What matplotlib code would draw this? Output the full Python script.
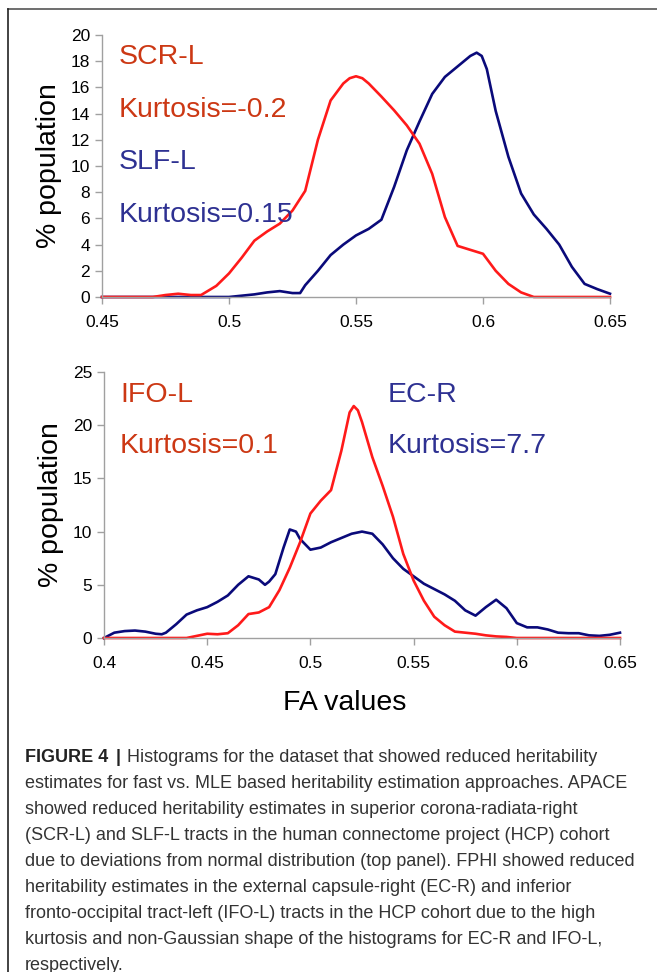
import matplotlib
matplotlib.use("Agg")
import matplotlib.pyplot as plt
from matplotlib.lines import Line2D

# top panel: SCR-L (red) and SLF-L (blue)
scr_x = [0.45, 0.47, 0.475, 0.48, 0.485, 0.489, 0.495, 0.5, 0.505, 0.51, 0.515, 0.52, 0.525, 0.53,
         0.535, 0.54, 0.545, 0.5475, 0.55, 0.5525, 0.555, 0.56, 0.565, 0.57, 0.575, 0.58, 0.585,
         0.59, 0.595, 0.6, 0.605, 0.61, 0.615, 0.62, 0.65]
scr_y = [0, 0, 0.15, 0.25, 0.15, 0.15, 0.85, 1.8, 3.0, 4.3, 5.0, 5.6, 6.6, 8.1,
         12.0, 15.0, 16.3, 16.7, 16.85, 16.7, 16.3, 15.3, 14.25, 13.1, 11.7, 9.4, 6.1,
         3.9, 3.6, 3.3, 2.0, 1.0, 0.35, 0, 0]
slf_x = [0.45, 0.5, 0.505, 0.51, 0.515, 0.52, 0.525, 0.528, 0.53, 0.535, 0.54, 0.545, 0.55,
         0.555, 0.56, 0.565, 0.57, 0.575, 0.58, 0.585, 0.59, 0.595, 0.5975, 0.5995, 0.6015,
         0.605, 0.61, 0.615, 0.62, 0.625, 0.63, 0.635, 0.64, 0.645, 0.65]
slf_y = [0, 0, 0.1, 0.2, 0.35, 0.45, 0.3, 0.3, 0.9, 2.0, 3.2, 4.0, 4.7,
         5.2, 5.9, 8.4, 11.2, 13.4, 15.5, 16.8, 17.6, 18.4, 18.65, 18.4, 17.4,
         14.2, 10.7, 7.9, 6.3, 5.2, 4.0, 2.3, 1.0, 0.6, 0.25]

# bottom panel: IFO-L (red) and EC-R (blue)
ifo_x = [0.4, 0.44, 0.445, 0.45, 0.455, 0.46, 0.465, 0.47, 0.475, 0.48, 0.485, 0.49, 0.495,
         0.5, 0.505, 0.51, 0.515, 0.519, 0.521, 0.523, 0.525, 0.53, 0.535, 0.54, 0.545, 0.55,
         0.555, 0.56, 0.565, 0.57, 0.575, 0.58, 0.585, 0.59, 0.595, 0.6, 0.65]
ifo_y = [0, 0, 0.2, 0.4, 0.35, 0.45, 1.2, 2.25, 2.4, 2.9, 4.5, 6.6, 9.0,
         11.7, 12.9, 13.9, 17.6, 21.2, 21.8, 21.4, 20.3, 17.0, 14.3, 11.4, 7.9, 5.4,
         3.5, 2.0, 1.2, 0.6, 0.5, 0.4, 0.25, 0.15, 0.1, 0, 0]
ecr_x = [0.4, 0.405, 0.41, 0.415, 0.42, 0.425, 0.428, 0.43, 0.435, 0.44, 0.445, 0.45, 0.455,
         0.46, 0.465, 0.47, 0.475, 0.478, 0.48, 0.483, 0.487, 0.49, 0.493, 0.495, 0.5,
         0.505, 0.51, 0.515, 0.52, 0.525, 0.53, 0.535, 0.54, 0.545, 0.55, 0.555, 0.56,
         0.565, 0.57, 0.575, 0.58, 0.585, 0.59, 0.595, 0.6, 0.605, 0.61, 0.615, 0.62,
         0.625, 0.63, 0.635, 0.64, 0.645, 0.65]
ecr_y = [0, 0.5, 0.65, 0.7, 0.6, 0.4, 0.35, 0.5, 1.3, 2.2, 2.6, 2.9, 3.4,
         4.0, 5.0, 5.8, 5.5, 5.0, 5.3, 6.0, 8.5, 10.2, 10.0, 9.3, 8.3,
         8.5, 9.0, 9.4, 9.8, 10.0, 9.8, 8.8, 7.5, 6.5, 5.8, 5.1, 4.6,
         4.1, 3.5, 2.6, 2.1, 2.9, 3.6, 2.8, 1.4, 1.0, 1.0, 0.8, 0.5,
         0.45, 0.45, 0.25, 0.2, 0.3, 0.5]

top_ticks_x = [0.45, 0.5, 0.55, 0.6, 0.65]
top_ticks_y = list(range(0, 21, 2))
bot_ticks_x = [0.4, 0.45, 0.5, 0.55, 0.6, 0.65]
bot_ticks_y = [0, 5, 10, 15, 20, 25]

caption_lines = [
    "Histograms for the dataset that showed reduced heritability",
    "estimates for fast vs. MLE based heritability estimation approaches. APACE",
    "showed reduced heritability estimates in superior corona-radiata-right",
    "(SCR-L) and SLF-L tracts in the human connectome project (HCP) cohort",
    "due to deviations from normal distribution (top panel). FPHI showed reduced",
    "heritability estimates in the external capsule-right (EC-R) and inferior",
    "fronto-occipital tract-left (IFO-L) tracts in the HCP cohort due to the high",
    "kurtosis and non-Gaussian shape of the histograms for EC-R and IFO-L,",
    "respectively.",
]

RED = "#ff1a1a"
NAVY = "#0a0a7a"
RED_TXT = "#cc3814"
NAVY_TXT = "#2e3192"
W, H = 657, 972

plt.rcParams["font.family"] = ["Liberation Sans", "DejaVu Sans"]
fig = plt.figure(figsize=(W / 100, H / 100), dpi=100)


def px_axes(left, top, right, bottom):
    return fig.add_axes([left / W, 1 - bottom / H, (right - left) / W, (bottom - top) / H])


def px_text(x, y, s, **kw):
    # pixel position measured from the top-left of the image
    return fig.text(x / W, 1 - y / H, s, **kw)


def style_axes(ax, xt, yt):
    ax.set_xticks(xt)
    ax.set_yticks(yt)
    ax.set_xlim(xt[0], xt[-1])
    ax.set_ylim(yt[0], yt[-1])
    ax.set_xticklabels([f"{v:g}" for v in xt])
    ax.set_yticklabels([str(v) for v in yt])
    for s in ["top", "right"]:
        ax.spines[s].set_visible(False)
    for s in ["left", "bottom"]:
        ax.spines[s].set_color("#a0a0a0")
        ax.spines[s].set_linewidth(1.0)
    ax.tick_params(colors="#a0a0a0", labelcolor="black", labelsize=12.5,
                   length=5, width=1.0, direction="out")
    ax.tick_params(axis="x", pad=8)
    ax.set_ylabel("% population", fontsize=20.5, labelpad=6)
    ax.patch.set_alpha(0)


# top panel
ax1 = px_axes(102, 35, 610, 297)
ax1.plot(scr_x, scr_y, color=RED, lw=1.9, solid_joinstyle="round", clip_on=False)
ax1.plot(slf_x, slf_y, color=NAVY, lw=1.9, solid_joinstyle="round", clip_on=False, zorder=1.9)
style_axes(ax1, top_ticks_x, top_ticks_y)
px_text(119, 57, "SCR-L", color=RED_TXT, fontsize=20.5, va="center")
px_text(119, 110, "Kurtosis=-0.2", color=RED_TXT, fontsize=20.5, va="center")
px_text(119, 162, "SLF-L", color=NAVY_TXT, fontsize=20.5, va="center")
px_text(119, 215, "Kurtosis=0.15", color=NAVY_TXT, fontsize=20.5, va="center")

# bottom panel
ax2 = px_axes(104, 372, 620, 638)
ax2.plot(ecr_x, ecr_y, color=NAVY, lw=1.9, solid_joinstyle="round", clip_on=False)
ax2.plot(ifo_x, ifo_y, color=RED, lw=1.9, solid_joinstyle="round", clip_on=False)
style_axes(ax2, bot_ticks_x, bot_ticks_y)
px_text(345, 710, "FA values", fontsize=20.5, ha="center", va="baseline")
px_text(120, 395, "IFO-L", color=RED_TXT, fontsize=20.5, va="center")
px_text(120, 446, "Kurtosis=0.1", color=RED_TXT, fontsize=20.5, va="center")
px_text(388, 395, "EC-R", color=NAVY_TXT, fontsize=20.5, va="center")
px_text(388, 446, "Kurtosis=7.7", color=NAVY_TXT, fontsize=20.5, va="center")

# frame lines at top and left
fig.add_artist(Line2D([8 / W, 1], [1 - 9.5 / H, 1 - 9.5 / H], color="#555555", lw=1.2))
fig.add_artist(Line2D([8 / W, 8 / W], [0, 1 - 9.5 / H], color="#222222", lw=1.2))

# caption
cap_size = 13.0
line_y = [757, 783, 809, 835, 861, 887, 913, 939, 965]
renderer = fig.canvas.get_renderer()
bold = px_text(25, line_y[0], "FIGURE 4", fontsize=cap_size, fontweight="bold",
               va="center", color="#222222")
bb = bold.get_window_extent(renderer)
bar = fig.text((bb.x1 + 7) / W, 1 - line_y[0] / H, "|", fontsize=cap_size, fontweight="bold",
               va="center", color="#222222")
bb = bar.get_window_extent(renderer)
fig.text((bb.x1 + 7) / W, 1 - line_y[0] / H, caption_lines[0], fontsize=cap_size,
         va="center", color="#333333")
for line, y in zip(caption_lines[1:], line_y[1:]):
    px_text(25, y, line, fontsize=cap_size, va="center", color="#333333")

fig.savefig("out.png", dpi=100)
